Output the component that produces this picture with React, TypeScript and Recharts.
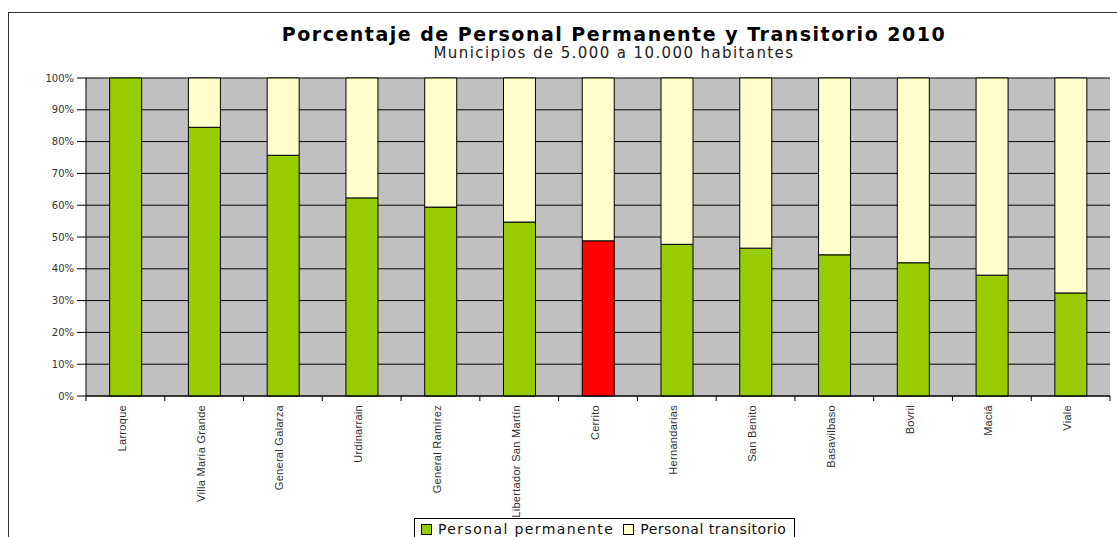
import { Bar, BarChart, CartesianGrid, Cell, Legend, XAxis, YAxis } from 'recharts';

const municipios = [
  'Larroque',
  'Villa María Grande',
  'General Galarza',
  'Urdinarrain',
  'General Ramírez',
  'Libertador San Martín',
  'Cerrito',
  'Hernandarias',
  'San Benito',
  'Basavilbaso',
  'Bovril',
  'Maciá',
  'Viale',
];
const permanente = [100, 84.5, 75.7, 62.3, 59.4, 54.7, 48.8, 47.7, 46.5, 44.4, 41.9, 38.0, 32.4];
const transitorio = [0, 15.5, 24.3, 37.7, 40.6, 45.3, 51.2, 52.3, 53.5, 55.6, 58.1, 62.0, 67.6];
const destacado = 'Cerrito';
const yTicks = [0, 10, 20, 30, 40, 50, 60, 70, 80, 90, 100];

const data = municipios.map((m, i) => ({
  municipio: m,
  permanente: permanente[i],
  transitorio: transitorio[i],
}));

const GREEN = '#99CC00';
const CREAM = '#FFFFCC';
const RED = '#FF0000';
const FONT = "'DejaVu Sans', sans-serif";

function XTick(props: any) {
  const { x, y, payload, index, visibleTicksCount } = props;
  const off = payload.offset ?? 0;
  const last = index === visibleTicksCount - 1;
  const tx = x + 0.5;
  const ty = y + 1;
  return (
    <g>
      <line x1={x - off} x2={x - off} y1={y - 8} y2={y - 3} stroke="#000" />
      {last && <line x1={x + off} x2={x + off} y1={y - 8} y2={y - 3} stroke="#000" />}
      <text
        x={tx}
        y={ty}
        transform={`rotate(-90, ${tx}, ${ty})`}
        textAnchor="end"
        fontSize={11}
        letterSpacing={0.3}
        fontFamily="'Liberation Sans', Arial, sans-serif"
        fill="#333"
      >
        {payload.value}
      </text>
    </g>
  );
}

function LegendBox() {
  const item = (color: string, label: string, gap: number, spacing: number) => (
    <span style={{ display: 'inline-flex', alignItems: 'center', marginRight: gap, letterSpacing: spacing }}>
      <span
        style={{
          display: 'inline-block',
          width: 9,
          height: 9,
          background: color,
          border: '1px solid #000',
          marginRight: 6,
        }}
      />
      {label}
    </span>
  );
  return (
    <div
      style={{
        boxSizing: 'border-box',
        width: 381,
        height: 40,
        border: '1px solid #000',
        background: '#fff',
        padding: '2px 0 0 6px',
        fontFamily: FONT,
        fontSize: 14,
        lineHeight: '16px',
        color: '#111',
        whiteSpace: 'nowrap',
      }}
    >
      {item(GREEN, 'Personal permanente', 9, 1.4)}
      {item(CREAM, 'Personal transitorio', 0, 0.5)}
    </div>
  );
}

export default function App() {
  return (
    <div
      style={{
        position: 'fixed',
        left: 8,
        top: 12,
        width: 1109,
        height: 525,
        borderTop: '1px solid #333',
        borderLeft: '1px solid #333',
        boxSizing: 'border-box',
        background: '#fff',
        overflow: 'hidden',
      }}
    >
      <div
        style={{
          position: 'absolute',
          left: 0,
          width: 1210,
          top: 12,
          textAlign: 'center',
          fontFamily: FONT,
          fontWeight: 'bold',
          fontSize: 19,
          lineHeight: '19px',
          letterSpacing: 1.5,
          color: '#000',
        }}
      >
        Porcentaje de Personal Permanente y Transitorio 2010
      </div>
      <div
        style={{
          position: 'absolute',
          left: 0,
          width: 1210,
          top: 32.9,
          textAlign: 'center',
          fontFamily: FONT,
          fontSize: 15,
          lineHeight: '15px',
          letterSpacing: 1.4,
          color: '#222',
        }}
      >
        Municipios de 5.000 a 10.000 habitantes
      </div>
      <BarChart
        width={1108}
        height={524}
        data={data}
        margin={{ top: 65, right: 7, bottom: 0, left: 0 }}
        barCategoryGap="30%"
      >
        <CartesianGrid yAxisId="l" vertical={false} stroke="#000" fill="#C0C0C0" fillOpacity={1} />
        <XAxis
          dataKey="municipio"
          interval={0}
          height={141}
          tickLine={false}
          axisLine={{ stroke: '#000' }}
          tick={<XTick />}
        />
        <YAxis
          yAxisId="l"
          domain={[0, 100]}
          ticks={yTicks}
          width={77}
          tickSize={9}
          tickMargin={3}
          tickLine={{ stroke: '#000' }}
          axisLine={{ stroke: '#000' }}
          tickFormatter={(v: number) => `${v}%`}
          tick={{ fontSize: 10, fill: '#333', fontFamily: FONT }}
        />
        <YAxis
          yAxisId="r"
          orientation="right"
          domain={[0, 100]}
          width={0}
          tick={false}
          tickLine={false}
          axisLine={{ stroke: '#808080' }}
        />
        <Legend
          verticalAlign="middle"
          align="center"
          layout="horizontal"
          wrapperStyle={{ top: 505, left: 405, width: 381 }}
          content={<LegendBox />}
        />
        <Bar
          yAxisId="l"
          dataKey="permanente"
          name="Personal permanente"
          stackId="a"
          fill={GREEN}
          stroke="#000"
          strokeWidth={1}
          isAnimationActive={false}
        >
          {data.map((d) => (
            <Cell key={d.municipio} fill={d.municipio === destacado ? RED : GREEN} />
          ))}
        </Bar>
        <Bar
          yAxisId="l"
          dataKey="transitorio"
          name="Personal transitorio"
          stackId="a"
          fill={CREAM}
          stroke="#000"
          strokeWidth={1}
          isAnimationActive={false}
        />
      </BarChart>
    </div>
  );
}
